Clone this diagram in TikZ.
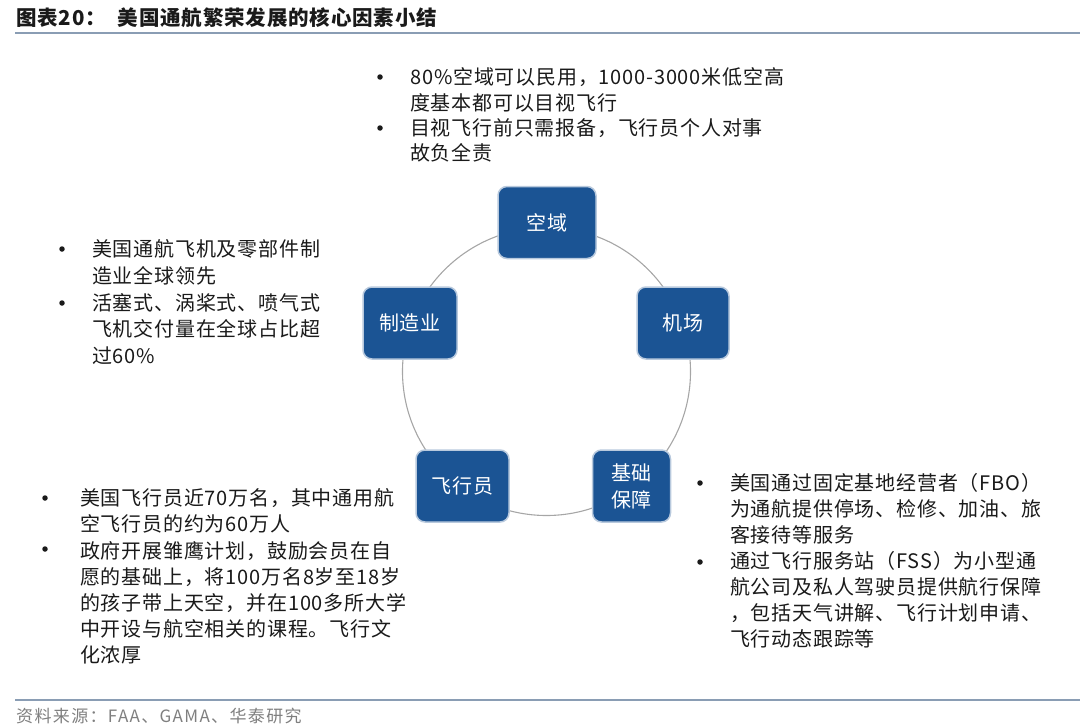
\documentclass[tikz,border=0pt]{standalone}
\usepackage{fontspec}
\setmainfont{Noto Sans CJK SC}[LetterSpace=4]
\newfontfamily\srcfont{Noto Sans CJK SC}[LetterSpace=8]
\definecolor{boxblue}{HTML}{1B5494}
\definecolor{boxedge}{HTML}{B8C9DD}
\definecolor{ringgray}{HTML}{A6A6A6}
\definecolor{rulecol}{HTML}{8A9DB4}
\definecolor{srcgray}{HTML}{7F7F7F}
\definecolor{txtcol}{HTML}{1A1A1A}
\tikzset{
  box/.style={rectangle, rounded corners=9pt, fill=boxblue, draw=boxedge, line width=1.5pt,
    text=white, font=\fontsize{20}{27}\selectfont, minimum height=72pt, align=center, inner sep=0pt},
  ring/.style={draw=ringgray, line width=1.1pt},
  txt/.style={align=left, inner sep=0pt, anchor=north west, text=txtcol, font=\fontsize{20}{26}\selectfont},
  bul/.style={circle, fill=txtcol, inner sep=0pt, minimum size=5.5pt},
  rulestyle/.style={draw=rulecol, line width=2pt},
}
\begin{document}
\begin{tikzpicture}[x=1pt,y=-1pt]
\useasboundingbox (0,0) rectangle (1080,728);
% title
\node[anchor=west, inner sep=0pt, font=\fontsize{20.5}{24}\selectfont\bfseries, text=txtcol] (title) at (16,18) {图表20：\hspace{12pt}美国通航繁荣发展的核心因素小结};
\coordinate (tl) at (15,33);
\coordinate (tr) at (1080,33);
\draw[rulestyle] (tl) -- (tr);
% ring
\coordinate (hub) at (546.5,371.5);
\draw[ring] (hub) circle (144pt);
% boxes
\node[box, minimum width=98pt] (kongyu) at (547,222.5) {空域};
\node[box, minimum width=94pt] (zhizao) at (410,323) {制造业};
\node[box, minimum width=92pt] (jichang) at (683,323) {机场};
\node[box, minimum width=93pt] (feixing) at (462.5,486) {飞行员};
\node[box, minimum width=78pt] (jichu) at (631.5,486) {基础\\保障};
% top block
\node[bul] (ba1) at (380,77) {};
\node[bul] (ba2) at (380,128) {};
\node[txt, font=\fontsize{20}{25.4}\selectfont] (ta) at (410,67.5) {80\%空域可以民用，1000-3000米低空高\\度基本都可以目视飞行\\目视飞行前只需报备，飞行员个人对事\\故负全责};
% left block
\node[bul] (bb1) at (62,249) {};
\node[bul] (bb2) at (62,303) {};
\node[txt, font=\fontsize{20}{26.7}\selectfont] (tb) at (92,239.5) {美国通航飞机及零部件制\\造业全球领先\\活塞式、涡桨式、喷气式\\飞机交付量在全球占比超\\过60\%};
% bottom-left block
\node[bul] (bc1) at (45,498) {};
\node[bul] (bc2) at (45,549) {};
\node[txt, font=\fontsize{20}{26.2}\selectfont] (tc) at (80,488.5) {美国飞行员近70万名，其中通用航\\空飞行员的约为60万人\\政府开展雏鹰计划，鼓励会员在自\\愿的基础上，将100万名8岁至18岁\\的孩子带上天空，并在100多所大学\\中开设与航空相关的课程。飞行文\\化浓厚};
% right block
\node[bul] (bd1) at (700,483) {};
\node[bul] (bd2) at (700,562) {};
\node[txt, font=\fontsize{20}{26}\selectfont] (td) at (730,473.5) {美国通过固定基地经营者（FBO）\\为通航提供停场、检修、加油、旅\\客接待等服务\\通过飞行服务站（FSS）为小型通\\航公司及私人驾驶员提供航行保障\\，包括天气讲解、飞行计划申请、\\飞行动态跟踪等};
% bottom rule and source
\coordinate (bl) at (15,700);
\coordinate (br) at (1080,700);
\draw[draw=rulecol, line width=1.5pt] (bl) -- (br);
\node[anchor=west, inner sep=0pt, font=\srcfont\fontsize{17}{20}\selectfont, text=srcgray] (src) at (16,716) {资料来源：FAA、GAMA、华泰研究};
\end{tikzpicture}
\end{document}
